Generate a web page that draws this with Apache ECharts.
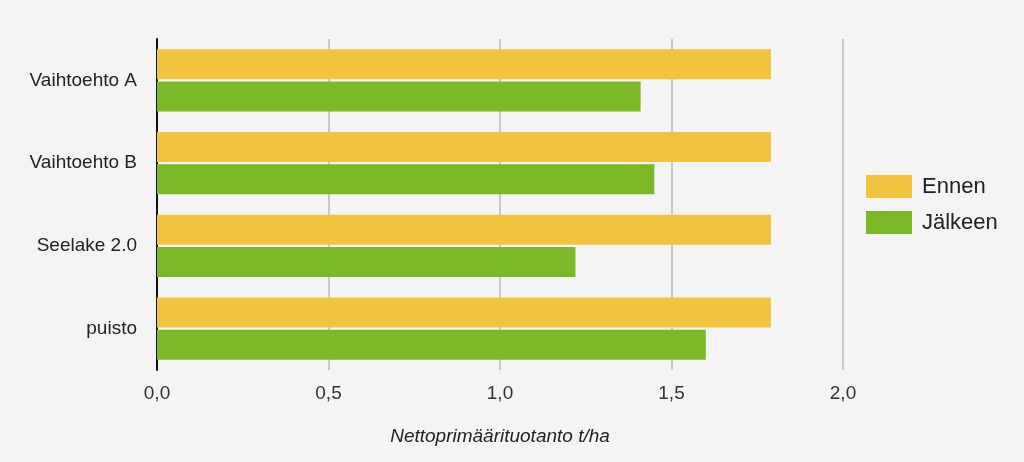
<!DOCTYPE html>
<html>
<head>
<meta charset="utf-8">
<script src="https://cdn.jsdelivr.net/npm/echarts@6/dist/echarts.min.js"></script>
<style>
  html, body { margin: 0; padding: 0; background: #f4f4f4; }
  #chart { width: 1024px; height: 462px; }
</style>
</head>
<body>
<div id="chart"></div>
<script>
  const categories = ['Vaihtoehto A', 'Vaihtoehto B', 'Seelake 2.0', 'puisto'];
  const ennen = [1.79, 1.79, 1.79, 1.79];
  const jalkeen = [1.41, 1.45, 1.22, 1.60];

  const myChart = echarts.init(document.getElementById('chart'));
  const font = 'Arial, "Liberation Sans", sans-serif';

  const option = {
    backgroundColor: '#f4f4f4',
    animation: false,
    textStyle: { fontFamily: font },
    legend: {
      data: ['Ennen', 'Jälkeen'],
      orient: 'vertical',
      left: 866,
      top: 175,
      padding: 0,
      itemWidth: 46,
      itemHeight: 23,
      itemGap: 13,
      icon: 'rect',
      textStyle: { fontSize: 22, color: '#222', fontFamily: font, padding: [0, 0, 0, 5] }
    },
    grid: {
      left: 157,
      right: 181,
      top: 39,
      bottom: 92
    },
    xAxis: {
      type: 'value',
      min: 0,
      max: 2,
      interval: 0.5,
      name: 'Nettoprimäärituotanto t/ha',
      nameLocation: 'middle',
      nameGap: 57,
      nameTextStyle: { fontStyle: 'italic', fontSize: 19, color: '#222' },
      axisLine: { show: false },
      axisTick: { show: false },
      axisLabel: {
        fontSize: 19,
        color: '#333',
        margin: 14,
        formatter: v => v.toFixed(1).replace('.', ',')
      },
      splitLine: { lineStyle: { color: '#c8c8c8', width: 2 } }
    },
    yAxis: {
      type: 'category',
      data: categories,
      inverse: true,
      axisLine: { lineStyle: { color: '#111', width: 2 } },
      axisTick: { show: false },
      axisLabel: { fontSize: 19, color: '#222', margin: 20 }
    },
    series: [
      {
        name: 'Ennen',
        type: 'bar',
        data: ennen,
        barWidth: 30,
        barGap: '8%',
        itemStyle: { color: '#f0c341' }
      },
      {
        name: 'Jälkeen',
        type: 'bar',
        data: jalkeen,
        barWidth: 30,
        barGap: '8%',
        itemStyle: { color: '#7db829' }
      }
    ]
  };

  myChart.setOption(option);
</script>
</body>
</html>
